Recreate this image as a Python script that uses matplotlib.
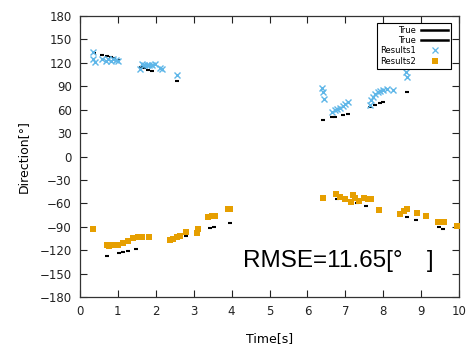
import matplotlib
matplotlib.use("Agg")
import matplotlib.pyplot as plt
from matplotlib.lines import Line2D

# Ground truth (black)
true_t = [0.36, 0.59, 0.70, 0.82, 0.89, 1.00, 1.61, 1.69, 1.80, 1.90, 2.55,
          6.42, 6.64, 6.74, 6.93, 7.07, 7.65, 7.78, 7.92, 8.00, 8.62,
          0.70, 1.04, 1.14, 1.27, 1.49, 2.80, 3.43, 3.54, 3.96,
          6.79, 7.32, 7.55, 8.62, 8.87, 9.48, 9.58]
true_deg = [132.3, 130.0, 128.8, 127.2, 126.3, 123.7, 114.3, 113.0, 110.9, 109.2, 96.4,
            46.8, 50.3, 51.0, 53.2, 54.5, 63.8, 66.0, 68.2, 70.3, 82.3,
            -127.6, -124.1, -122.4, -120.8, -119.0, -101.9, -92.1, -90.8, -84.9,
            -54.9, -60.0, -63.1, -77.2, -81.4, -90.0, -93.3]

# Results1 (blue crosses)
r1_t = [0.33, 0.35, 0.39, 0.59, 0.68, 0.73, 0.81, 0.88, 0.94, 1.01,
        1.58, 1.64, 1.70, 1.77, 1.83, 1.90, 1.97, 2.11, 2.17, 2.55,
        6.39, 6.42, 6.45, 6.66, 6.72, 6.79, 6.86, 6.93, 6.99, 7.08,
        7.65, 7.68, 7.72, 7.78, 7.85, 7.92, 8.00, 8.09, 8.25, 8.60, 8.64]
r1_deg = [133.6, 124.6, 120.8, 124.6, 122.4, 124.6, 122.8, 124.6, 123.7, 122.0,
          112.2, 118.6, 117.3, 116.9, 117.3, 116.9, 118.2, 113.5, 112.2, 104.9,
          87.4, 83.1, 73.3, 57.4, 59.6, 60.9, 62.6, 65.1, 66.9, 70.3,
          66.0, 72.4, 76.7, 80.1, 82.7, 84.4, 85.3, 86.2, 85.3, 108.7, 102.3]

# Results2 (orange squares)
r2_t = [0.33, 0.70, 0.77, 0.88, 1.01, 1.14, 1.27, 1.41, 1.54, 1.63, 1.83,
        2.37, 2.46, 2.55, 2.64, 2.81, 3.08, 3.12, 3.37, 3.47, 3.56, 3.91, 3.97,
        6.42, 6.75, 6.86, 6.99, 7.15, 7.20, 7.26, 7.36, 7.49, 7.61, 7.69, 7.90,
        8.44, 8.55, 8.64, 8.88, 9.13, 9.45, 9.60, 9.94]
r2_deg = [-93.0, -113.5, -114.7, -113.0, -113.5, -111.3, -107.9, -104.9, -103.6, -103.2, -103.6,
          -107.0, -105.4, -103.6, -102.3, -96.8, -97.7, -93.0, -77.9, -76.3, -76.3, -66.9, -66.9,
          -52.8, -48.5, -51.5, -54.5, -57.9, -49.4, -52.8, -56.7, -52.8, -54.5, -54.9, -68.6,
          -73.7, -69.4, -67.7, -72.1, -76.3, -83.6, -84.4, -89.1]

xticks = list(range(0, 11))
yticks = list(range(-180, 181, 30))
rmse_text = "RMSE=11.65[°\u3000]"

blue = "#5EB6E8"
orange = "#E69F00"

fig = plt.figure(figsize=(4.72, 3.45), dpi=100)
ax = fig.add_axes([80/472, 48/345, 379/472, 281/345])

ax.plot(true_t, true_deg, linestyle="none", marker="_", markersize=3.0,
        markeredgewidth=1.5, color="black", zorder=2)
ax.plot(r1_t, r1_deg, linestyle="none", marker="x", markersize=5,
        markeredgewidth=1.0, color=blue, zorder=3)
ax.plot(r2_t, r2_deg, linestyle="none", marker="s", markersize=4.2,
        markeredgewidth=0, color=orange, zorder=3)

ax.set_xlim(0, 10)
ax.set_ylim(-180, 180)
ax.set_xticks(xticks)
ax.set_yticks(yticks)
ax.tick_params(direction="in", top=True, right=True, length=5, width=0.8,
               labelsize=8.5, colors="#222222", pad=6)
for s in ax.spines.values():
    s.set_linewidth(0.9)
    s.set_color("#333333")

ax.set_xlabel("Time[s]", fontsize=9, labelpad=10)
ax.set_ylabel("Direction[°]", fontsize=9, labelpad=7)

ax.text(0.43, 0.105, rmse_text, transform=ax.transAxes, fontsize=17.5,
        family=["Liberation Sans", "Noto Sans CJK JP"], ha="left", va="baseline")

handles = [
    Line2D([], [], color="black", linewidth=1.8),
    Line2D([], [], color="black", linewidth=1.8),
    Line2D([], [], color=blue, linestyle="none", marker="x", markersize=4, markeredgewidth=0.9),
    Line2D([], [], color=orange, linestyle="none", marker="s", markersize=4, markeredgewidth=0),
]
labels = ["True", "True", "Results1", "Results2"]
leg = fig.legend(handles, labels, loc="upper right",
                 bbox_to_anchor=(451/472, 1 - 23/345), markerfirst=False,
                 fontsize=6, frameon=True, fancybox=False, framealpha=1,
                 edgecolor="black", handlelength=3.2, handletextpad=0.7,
                 labelspacing=0.15, borderpad=0.35, borderaxespad=0)
leg.get_frame().set_linewidth(0.8)

fig.savefig("out.png", dpi=100)
